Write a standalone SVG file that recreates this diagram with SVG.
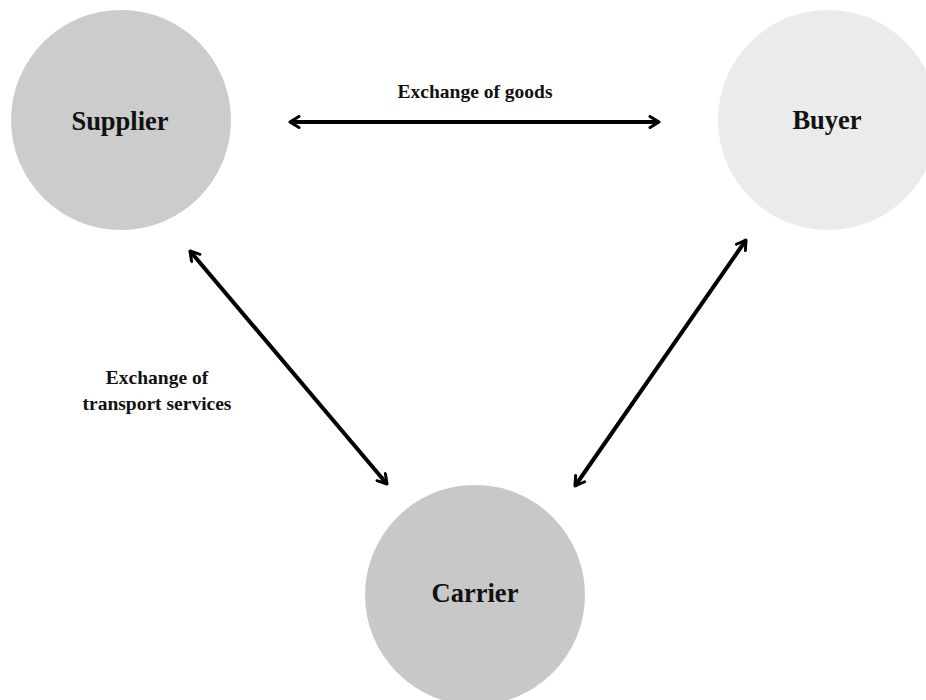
<svg xmlns="http://www.w3.org/2000/svg" width="926" height="700" viewBox="0 0 926 700">
<style>
.lbl{font-family:"Liberation Serif","Times New Roman",serif;font-weight:bold;fill:#111;text-anchor:middle}
.node{font-size:26.5px}
.edge{font-size:19.5px}
.conn{stroke:#000;stroke-width:4;fill:none;marker-start:url(#ah);marker-end:url(#ah)}
</style>
<defs>
<marker id="ah" viewBox="0 0 14 14" refX="12" refY="7" markerWidth="14" markerHeight="14" markerUnits="userSpaceOnUse" orient="auto-start-reverse">
<path d="M3,1.5 L12,7 L3,12.5" fill="none" stroke="#000" stroke-width="3" stroke-linecap="round" stroke-linejoin="round"/>
</marker>
</defs>
<rect width="926" height="700" fill="#fff"/>
<g id="supplier">
<circle cx="121" cy="120" r="110" fill="#cccccc"/>
<text class="lbl node" x="120" y="130">Supplier</text>
</g>
<g id="buyer">
<circle cx="828" cy="120" r="110" fill="#ebebeb"/>
<text class="lbl node" x="827" y="129">Buyer</text>
</g>
<g id="carrier">
<circle cx="475" cy="595" r="110" fill="#c8c8c8"/>
<text class="lbl node" x="475" y="602">Carrier</text>
</g>
<g id="connectors">
<line class="conn" x1="290" y1="122" x2="659" y2="122"/>
<line class="conn" x1="190" y1="251" x2="387" y2="484"/>
<line class="conn" x1="746" y1="240" x2="575" y2="486"/>
</g>
<g id="labels">
<text class="lbl edge" x="475" y="98">Exchange of goods</text>
<text class="lbl edge" x="157" y="384">Exchange of</text>
<text class="lbl edge" x="157" y="410">transport services</text>
</g>
</svg>
